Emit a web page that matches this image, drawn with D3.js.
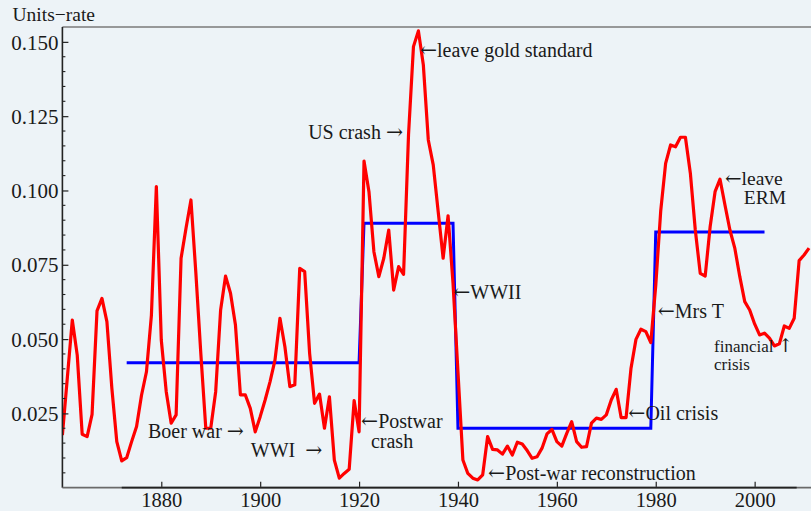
<!DOCTYPE html>
<html>
<head>
<meta charset="utf-8">
<script src="https://cdn.jsdelivr.net/npm/d3@7"></script>
<style>
  html, body { margin: 0; padding: 0; background: #EDF3F7; }
  svg { display: block; }
  text { font-family: "Liberation Serif", "Times New Roman", serif; fill: #1a1a1a; }
  tspan.arrow { font-family: "DejaVu Serif", serif; }
</style>
</head>
<body>
<svg id="chart" width="811" height="511"></svg>
<script>
// Annual unemployment rate, 1860–2011
const firstYear = 1860;
const rate = [
  0.0177, 0.0370, 0.0564, 0.0446, 0.0180, 0.0172, 0.0247, 0.0595, 0.0637, 0.0559, // 1860s
  0.0335, 0.0155, 0.0090, 0.0101, 0.0155, 0.0206, 0.0311, 0.0390, 0.0580, 0.1013, // 1870s
  0.0497, 0.0323, 0.0217, 0.0245, 0.0772, 0.0873, 0.0968, 0.0720, 0.0450, 0.0200, // 1880s
  0.0200, 0.0323, 0.0598, 0.0712, 0.0654, 0.0547, 0.0312, 0.0312, 0.0267, 0.0188, // 1890s
  0.0239, 0.0295, 0.0357, 0.0430, 0.0570, 0.0474, 0.0340, 0.0346, 0.0738, 0.0727, // 1900s
  0.0452, 0.0284, 0.0315, 0.0200, 0.0306, 0.0093, 0.0032, 0.0048, 0.0062, 0.0293, // 1910s
  0.0188, 0.1099, 0.0996, 0.0794, 0.0710, 0.0772, 0.0867, 0.0665, 0.0744, 0.0718, // 1920s
  0.1187, 0.1484, 0.1537, 0.1422, 0.1170, 0.1086, 0.0929, 0.0772, 0.0915, 0.0688, // 1930s
  0.0390, 0.0093, 0.0048, 0.0032, 0.0026, 0.0043, 0.0172, 0.0129, 0.0127, 0.0113, // 1940s
  0.0140, 0.0110, 0.0153, 0.0147, 0.0125, 0.0099, 0.0104, 0.0133, 0.0181, 0.0196, // 1950s
  0.0155, 0.0140, 0.0183, 0.0222, 0.0155, 0.0136, 0.0138, 0.0217, 0.0234, 0.0230, // 1960s
  0.0245, 0.0295, 0.0331, 0.0236, 0.0236, 0.0402, 0.0499, 0.0533, 0.0525, 0.0488, // 1970s
  0.0680, 0.0930, 0.1091, 0.1153, 0.1147, 0.1179, 0.1179, 0.1058, 0.0867, 0.0721, // 1980s
  0.0712, 0.0878, 0.0996, 0.1038, 0.0951, 0.0867, 0.0805, 0.0710, 0.0626, 0.0598, // 1990s
  0.0551, 0.0514, 0.0520, 0.0503, 0.0477, 0.0484, 0.0544, 0.0536, 0.0570, 0.0764, // 2000s
  0.0783, 0.0806                                                                   // 2010s
];
const years = d3.range(firstYear, firstYear + rate.length);

// Regime averages (step line)
const regimeYears = [1873, 1920, 1921, 1939, 1940, 1979, 1980, 2002];
const regimeRate  = [0.042, 0.042, 0.089, 0.089, 0.020, 0.020, 0.086, 0.086];

// Axis ticks
const xTicks = [1880, 1900, 1920, 1940, 1960, 1980, 2000];
const yTicks = [0.025, 0.050, 0.075, 0.100, 0.125, 0.150];
const yMinorTicks = d3.range(1, 31).map(i => i * 0.005).filter(v => !yTicks.some(t => Math.abs(t - v) < 1e-9));

// Event notes: each line anchored at (year, rate) = start of its baseline
const notes = [
  { text: "\u2190leave gold standard", year: 1932.3, rate: 0.1449 },
  { text: "US crash \u2192", year: 1909.7, rate: 0.1172 },
  { text: "\u2190leave", year: 1994.0, rate: 0.1019, size: 19.5 },
  { text: "ERM", year: 1997.8, rate: 0.0954, size: 19.5 },
  { text: "\u2190WWII", year: 1939.05, rate: 0.0635 },
  { text: "\u2190Mrs T", year: 1980.4, rate: 0.0570 },
  { text: "financial \u2191", year: 1991.8, rate: 0.0455, size: 17 },
  { text: "crisis", year: 1991.8, rate: 0.0395, size: 17 },
  { text: "\u2190Oil crisis", year: 1974.45, rate: 0.0228 },
  { text: "\u2190Post-war reconstruction", year: 1946.1, rate: 0.0026 },
  { text: "\u2190Postwar", year: 1920.4, rate: 0.0201 },
  { text: "crash", year: 1922.4, rate: 0.0134 },
  { text: "Boer war \u2192", year: 1877.3, rate: 0.0166 },
  { text: "WWI \u00a0\u2192", year: 1898.1, rate: 0.0103 }
];

const svg = d3.select("#chart");
const W = 811;
const mLeft = 62.4, mTop = 27, mBottom = 487.7;

const x = d3.scaleLinear().domain([1860, 2011.4]).range([mLeft, W]);
const y = d3.scaleLinear().domain([0, 0.155]).range([mBottom, mTop]);

// Clip for marks
svg.append("clipPath").attr("id", "plotClip")
  .append("rect").attr("x", mLeft).attr("y", mTop - 5).attr("width", W - mLeft).attr("height", mBottom - mTop + 5);

// Top frame line
svg.append("line")
  .attr("x1", mLeft).attr("x2", W).attr("y1", mTop).attr("y2", mTop)
  .attr("stroke", "#7a7a7a").attr("stroke-width", 1.4);

const plot = svg.append("g").attr("clip-path", "url(#plotClip)");

// Step line of regime averages
plot.append("path")
  .datum(regimeYears.map((yr, i) => [yr, regimeRate[i]]))
  .attr("fill", "none").attr("stroke", "#0000ff").attr("stroke-width", 3)
  .attr("stroke-linejoin", "miter")
  .attr("d", d3.line().x(d => x(d[0])).y(d => y(d[1])));

// Annual rate
plot.append("path")
  .datum(years.map((yr, i) => [yr, rate[i]]))
  .attr("fill", "none").attr("stroke", "#ff0000").attr("stroke-width", 3.2)
  .attr("stroke-linejoin", "round")
  .attr("d", d3.line().x(d => x(d[0])).y(d => y(d[1])));

// Y axis
const yAxis = svg.append("g").attr("transform", `translate(${mLeft},0)`)
  .call(d3.axisRight(y).tickValues(yTicks).tickSize(6).tickFormat(d3.format(".3f")));
yAxis.select(".domain").remove();
yAxis.selectAll(".tick line").attr("stroke", "#222").attr("stroke-width", 1.2);
yAxis.selectAll(".tick text")
  .attr("x", -4).attr("dy", "0.34em").attr("text-anchor", "end")
  .attr("font-size", 21).attr("font-family", null).attr("fill", "#1a1a1a");

svg.append("g").attr("transform", `translate(${mLeft},0)`)
  .selectAll("line").data(yMinorTicks).join("line")
  .attr("x1", 0).attr("x2", 3).attr("y1", d => y(d)).attr("y2", d => y(d))
  .attr("stroke", "#222").attr("stroke-width", 1.1);

svg.append("line")
  .attr("x1", mLeft).attr("x2", mLeft).attr("y1", mTop).attr("y2", mBottom)
  .attr("stroke", "#222").attr("stroke-width", 1.6);

// X axis
const xAxis = svg.append("g").attr("transform", `translate(0,${mBottom})`)
  .call(d3.axisTop(x).tickValues(xTicks).tickSize(6).tickFormat(d3.format("d")));
xAxis.select(".domain").remove();
xAxis.selectAll(".tick line").attr("stroke", "#222").attr("stroke-width", 1.2);
xAxis.selectAll(".tick text")
  .attr("y", 19).attr("dy", 0).attr("text-anchor", "middle")
  .attr("font-size", 20.5).attr("font-family", null).attr("fill", "#1a1a1a");

svg.append("line")
  .attr("x1", mLeft).attr("x2", W).attr("y1", mBottom).attr("y2", mBottom)
  .attr("stroke", "#6a6a6a").attr("stroke-width", 1.8);
svg.append("line")
  .attr("x1", x(1872)).attr("x2", x(2008.5)).attr("y1", mBottom).attr("y2", mBottom)
  .attr("stroke", "#222").attr("stroke-width", 1.8);

// Axis unit label
svg.append("text")
  .attr("x", 12.5).attr("y", 21)
  .attr("font-size", 19.5)
  .text("Units\u2212rate");

// Event notes; arrows use a font whose arrow glyphs are long and thin
const noteG = svg.append("g");
notes.forEach(n => {
  const t = noteG.append("text")
    .attr("x", x(n.year)).attr("y", y(n.rate))
    .attr("font-size", n.size || 20);
  n.text.split(/([\u2190\u2192\u2191])/).filter(s => s.length).forEach(part => {
    const isArrow = /[\u2190\u2192\u2191]/.test(part);
    t.append("tspan")
      .classed("arrow", isArrow)
      .attr("font-size", isArrow ? (part === "\u2191" ? "1.1em" : "1.02em") : null)
      .text(part);
  });
});
</script>
</body>
</html>
